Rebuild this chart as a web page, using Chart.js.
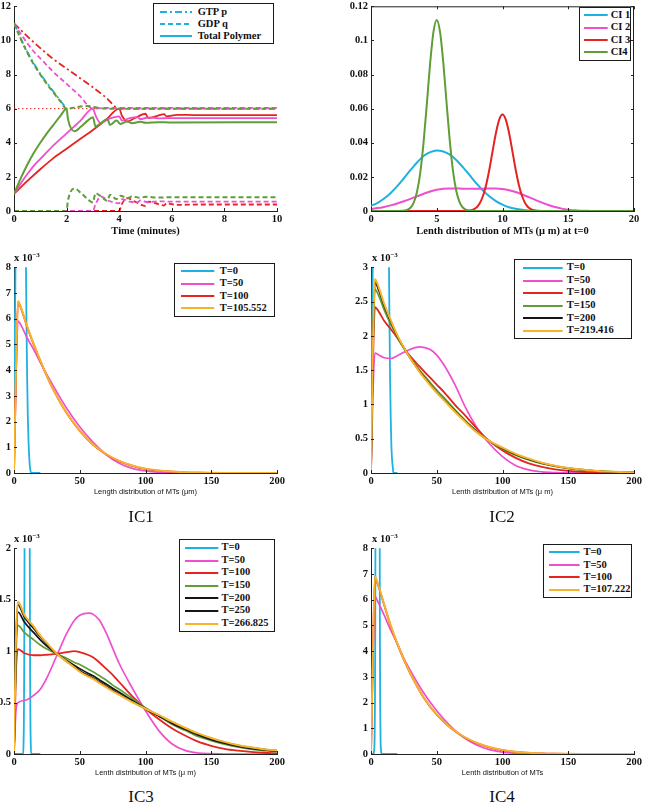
<!DOCTYPE html>
<html><head><meta charset="utf-8">
<script src="https://cdn.jsdelivr.net/npm/chart.js@4.4.0/dist/chart.umd.min.js"></script>
<style>
body{margin:0;background:#fff;}
#page{position:relative;width:645px;height:812px;overflow:hidden;background:#fff;}
.cv{position:absolute;}
.leg{position:absolute;border:1.3px solid #1a1a1a;background:#fff;box-sizing:border-box;font:bold 10.5px "Liberation Serif",serif;color:#111;overflow:visible;z-index:5;}
.leg span{position:absolute;white-space:nowrap;line-height:12px;}
.leg svg{position:absolute;overflow:visible;}
.cap{position:absolute;font:17px "Liberation Serif",serif;color:#111;transform:translate(-50%,-50%);white-space:nowrap;}
.exp{position:absolute;font:bold 10.5px "Liberation Serif",serif;color:#111;line-height:12px;white-space:nowrap;}
.exp sup{font-size:7px;vertical-align:4px;line-height:0;}
</style></head>
<body><div id="page"></div>
<script>
const C = {cyan:'#1eb1e2', magenta:'#ef4fce', red:'#e52421', green:'#5f9e36', orange:'#f6b32b', black:'#151515'};

// ---------- Panel 1 : time course ----------
const p1XTicks = [0,2,4,6,8,10];
const p1YTicks = [0,2,4,6,8,10,12];
const p1XLabel = 'Time (minutes)';
const p1Legend = ['GTP p','GDP q','Total Polymer'];
const gTotT = [0,0.25,0.5,0.75,1,1.25,1.5,1.75,2,2.05,2.3,2.55,2.8,3.0,3.1,3.3,3.55,3.65,3.9,4.05,4.3,4.5,4.8,5.0,5.5,6,10];
const gTotV = [1,1.9,2.7,3.4,4.0,4.55,5.05,5.55,6.0,5.4,4.68,4.95,5.3,5.5,4.95,5.15,5.4,5.05,5.3,5.1,5.25,5.14,5.23,5.17,5.21,5.19,5.2];
const gUpT = [0,0.25,0.5,0.75,1,1.25,1.5,1.75,2,2.4,2.8,3.2,3.6,10];
const gUpV = [11,10.1,9.3,8.6,8.0,7.45,6.95,6.45,6.0,6.1,6.15,6.05,6.0,6.0];
const gLowT = [0,2.0,2.05,2.3,2.55,2.8,3.0,3.1,3.3,3.55,3.65,3.9,4.05,4.3,4.5,4.8,5.0,5.5,6,10];
const gLowV = [0,0,0.6,1.32,1.05,0.7,0.5,1.05,0.85,0.6,0.95,0.7,0.9,0.75,0.86,0.77,0.83,0.79,0.81,0.8];
const mTotT = [0,0.25,0.5,0.75,1,1.5,2,2.5,3,3.1,3.3,3.6,4.0,4.1,4.4,4.7,4.8,5.1,5.5,6,10];
const mTotV = [1,1.6,2.15,2.65,3.05,3.85,4.55,5.25,6.0,5.6,5.15,5.4,5.55,5.3,5.45,5.5,5.38,5.48,5.43,5.45,5.45];
const mUpT = [0,0.25,0.5,0.75,1,1.5,2,2.5,3,3.5,10];
const mUpV = [11,10.4,9.85,9.35,8.95,8.15,7.45,6.75,6.0,6.05,6.05];
const mLowT = [0,3,3.1,3.3,3.6,4.0,4.1,4.4,4.7,4.8,5.1,5.5,6,10];
const mLowV = [0,0,0.4,0.85,0.6,0.45,0.7,0.55,0.5,0.62,0.52,0.57,0.55,0.55];
const rTotT = [0,0.5,1,1.5,2,2.5,3,3.5,4,4.1,4.3,4.6,5.0,5.1,5.5,5.7,5.8,6.2,7,10];
const rTotV = [1,1.75,2.45,3.1,3.65,4.2,4.75,5.35,6.0,5.6,5.25,5.45,5.7,5.45,5.6,5.68,5.55,5.64,5.62,5.62];
const rUpT = [0,0.5,1,1.5,2,2.5,3,3.5,4,10];
const rUpV = [11,10.25,9.55,8.9,8.35,7.8,7.25,6.65,6.0,6.0];
const rLowT = [0,4,4.1,4.3,4.6,5.0,5.1,5.5,5.7,5.8,6.2,7,10];
const rLowV = [0,0,0.4,0.75,0.55,0.3,0.55,0.4,0.32,0.45,0.36,0.38,0.38];
const cUpT = [0,0.5,1,1.5,2];
const cUpV = [11,9.35,8.05,7.0,6.0];
const refT = [0,10];
const refV = [6,6];

// ---------- Panel 2 : initial conditions ----------
const p2XTicks = [0,5,10,15,20];
const p2YTicks = [0,0.02,0.04,0.06,0.08,0.1,0.12];
const p2XLabel = 'Lenth distribution of MTs (\u03bc m) at t=0';
const p2Legend = ['CI 1','CI 2','CI 3','CI4'];
const ci1X = [0,0.5,1,1.5,2,2.5,3,3.5,4,4.5,5,5.5,6,6.5,7,7.5,8,8.5,9,9.5,10,10.5,11,11.5,12,12.5,13,20];
const ci1Y = [0.0030,0.0048,0.0073,0.0106,0.0146,0.0192,0.0239,0.0284,0.0322,0.0345,0.0355,0.0349,0.0330,0.0298,0.0256,0.0210,0.0163,0.0121,0.0086,0.0058,0.0037,0.0022,0.0013,0.0007,0.0003,0.0001,0,0];
const ci2X = [0,0.5,1,1.5,2,2.5,3,3.5,4,4.5,5,5.5,6,6.5,7,7.5,8,8.5,9,9.5,10,10.5,11,11.5,12,12.5,13,13.5,14,14.5,15,15.5,16,16.5,17,20];
const ci2Y = [0.0012,0.0017,0.0024,0.0033,0.0044,0.0057,0.0071,0.0086,0.0101,0.0114,0.0124,0.0130,0.0132,0.0132,0.0131,0.0131,0.0131,0.0131,0.0132,0.0132,0.0129,0.0122,0.0111,0.0097,0.0081,0.0065,0.0049,0.0035,0.0023,0.0014,0.0008,0.0004,0.0002,0.0001,0,0];
const ci3X = [0,7,7.25,7.5,7.75,8,8.25,8.5,8.75,9,9.25,9.5,9.75,10,10.25,10.5,10.75,11,11.25,11.5,11.75,12,12.25,12.5,12.75,13,20];
const ci3Y = [0,0,0.0001,0.0003,0.0008,0.0019,0.0043,0.0085,0.0151,0.0243,0.0352,0.0457,0.0536,0.0565,0.0536,0.0457,0.0352,0.0243,0.0151,0.0085,0.0043,0.0019,0.0008,0.0003,0.0001,0,0];
const ci4X = [0,2,2.25,2.5,2.75,3,3.25,3.5,3.75,4,4.25,4.5,4.75,5,5.25,5.5,5.75,6,6.25,6.5,6.75,7,7.25,7.5,7.75,8,20];
const ci4Y = [0,0,0.0001,0.0002,0.0006,0.0019,0.0049,0.0113,0.0227,0.0404,0.0631,0.0868,0.1050,0.1120,0.1050,0.0868,0.0631,0.0404,0.0227,0.0113,0.0049,0.0019,0.0006,0.0002,0.0001,0,0];

// ---------- Panels 3-6 : evolution (values in units of 10^-3) ----------
const lenTicks = [0,50,100,150,200];
const ic1YTicks = [0,1,2,3,4,5,6,7,8];
const ic2YTicks = [0,0.5,1,1.5,2,2.5,3];
const ic3YTicks = [0,0.5,1,1.5,2];
const ic4YTicks = [0,1,2,3,4,5,6,7,8];
const ic1XLabel = 'Length distribution of MTs (\u03bcm)';
const ic2XLabel = 'Lenth distribution of MTs (\u03bc m)';
const ic3XLabel = 'Lenth distribution of MTs (\u03bc m)';
const ic4XLabel = 'Lenth distribution of MTs';
const ic1Legend = ['T=0','T=50','T=100','T=105.552'];
const ic2Legend = ['T=0','T=50','T=100','T=150','T=200','T=219.416'];
const ic3Legend = ['T=0','T=50','T=100','T=150','T=200','T=250','T=266.825'];
const ic4Legend = ['T=0','T=50','T=100','T=107.222'];
const captions = ['IC1','IC2','IC3','IC4'];

const g1 = [0,1.5,3,5,10,15,20,25,30,40,50,60,70,80,90,100,110,120,130,140,150,160,170,180,190,200];
const ic1T50  = [0,3.6,5.92,5.78,5.25,4.8,4.3,3.82,3.38,2.52,1.8,1.2,0.72,0.38,0.18,0.08,0.03,0.012,0.005,0.002,0,0,0,0,0,0];
const ic1T100 = [0,3.9,6.64,6.45,5.68,5.0,4.36,3.77,3.23,2.33,1.64,1.11,0.73,0.46,0.28,0.16,0.09,0.05,0.025,0.012,0.006,0.003,0.001,0,0,0];
const ic1T105 = [0,3.95,6.69,6.48,5.7,5.02,4.37,3.78,3.24,2.34,1.65,1.12,0.74,0.47,0.29,0.17,0.1,0.055,0.03,0.015,0.008,0.004,0.002,0.001,0,0];

const g2 = [0,1.5,3,6,10,15,20,27,37,45,50,56,64,72,80,88,100,110,120,130,140,150,160,170,180,190,200];
const ic2T50  = [0,1.2,1.75,1.72,1.68,1.67,1.71,1.78,1.84,1.8,1.72,1.56,1.28,0.95,0.68,0.47,0.24,0.11,0.045,0.017,0.006,0.002,0.0005,0,0,0,0];
const ic2T100 = [0,1.6,2.42,2.35,2.22,2.1,1.97,1.77,1.55,1.39,1.29,1.17,0.99,0.83,0.66,0.5,0.33,0.22,0.14,0.088,0.054,0.032,0.018,0.01,0.005,0.002,0.001];
const ic2T150 = [0,1.8,2.68,2.58,2.38,2.17,1.98,1.76,1.5,1.32,1.21,1.09,0.92,0.76,0.62,0.49,0.35,0.26,0.19,0.135,0.095,0.065,0.044,0.029,0.018,0.011,0.007];
const ic2T200 = [0,1.85,2.78,2.66,2.44,2.21,2.0,1.76,1.48,1.29,1.18,1.06,0.9,0.75,0.61,0.49,0.36,0.27,0.2,0.145,0.102,0.07,0.048,0.032,0.021,0.013,0.008];
const ic2T219 = [0,1.88,2.83,2.7,2.47,2.23,2.01,1.76,1.47,1.28,1.17,1.05,0.89,0.74,0.6,0.49,0.37,0.28,0.21,0.15,0.106,0.073,0.05,0.034,0.022,0.014,0.009];

const g3 = [0,1.5,3,8,15,20,25,33,40,46,50,57,60,65,70,75,80,90,100,110,120,130,140,150,160,170,180,190,200];
const ic3T50  = [0,0.42,0.5,0.52,0.57,0.63,0.74,0.97,1.17,1.3,1.35,1.37,1.36,1.3,1.18,1.03,0.88,0.64,0.42,0.23,0.1,0.035,0.01,0.003,0,0,0,0,0];
const ic3T100 = [0,0.8,1.02,0.98,0.96,0.96,0.965,0.975,0.99,1.0,0.99,0.96,0.94,0.89,0.83,0.77,0.7,0.56,0.44,0.34,0.25,0.18,0.12,0.08,0.05,0.032,0.02,0.012,0.007];
const ic3T150 = [0,0.95,1.25,1.18,1.11,1.06,1.02,0.97,0.93,0.89,0.87,0.82,0.8,0.76,0.72,0.67,0.63,0.54,0.45,0.37,0.29,0.23,0.17,0.13,0.095,0.068,0.047,0.032,0.022];
const ic3T200 = [0,1.05,1.38,1.28,1.18,1.11,1.05,0.97,0.91,0.86,0.83,0.78,0.76,0.72,0.68,0.64,0.6,0.52,0.44,0.37,0.3,0.24,0.185,0.14,0.105,0.077,0.055,0.04,0.028];
const ic3T250 = [0,1.1,1.45,1.33,1.22,1.14,1.07,0.97,0.9,0.85,0.81,0.76,0.74,0.7,0.66,0.62,0.58,0.51,0.44,0.375,0.31,0.25,0.195,0.15,0.114,0.085,0.062,0.045,0.032];
const ic3T266 = [0,1.12,1.48,1.35,1.24,1.15,1.08,0.97,0.9,0.84,0.8,0.75,0.73,0.69,0.65,0.61,0.575,0.505,0.44,0.38,0.315,0.255,0.2,0.155,0.118,0.088,0.065,0.047,0.034];

const g4 = [0,1.5,3,5,10,15,20,25,30,40,50,60,70,80,90,100,110,120,130,140,150,160,170,180,190,200];
const ic4T50  = [0,3.7,6.13,5.95,5.4,4.82,4.3,3.72,3.24,2.38,1.68,1.1,0.66,0.36,0.17,0.07,0.025,0.008,0.002,0,0,0,0,0,0,0];
const ic4T100 = [0,4.0,6.86,6.62,5.8,4.98,4.28,3.66,3.12,2.2,1.53,1.04,0.68,0.43,0.26,0.15,0.08,0.04,0.02,0.01,0.005,0.002,0.001,0,0,0];
const ic4T107 = [0,4.05,6.9,6.66,5.82,5.0,4.3,3.68,3.13,2.21,1.54,1.05,0.69,0.44,0.27,0.16,0.09,0.045,0.022,0.011,0.006,0.003,0.001,0,0,0];

// ---------- helpers ----------
const DASH = {solid:[], dash:[5,3], dashdot:[7,3,2,3], dot:[1.5,2.5]};
const page = document.getElementById('page');
function pts(xs, ys, k){ k = k || 1; return xs.map((x,i)=>({x:x, y:ys[i]*k})); }
function ds(xs, ys, color, o){
  o = o || {};
  return {data:pts(xs,ys,o.k), borderColor:color, backgroundColor:color, borderWidth:o.w||1.8,
    borderDash:DASH[o.dash||'solid'], pointRadius:0, fill:false, cubicInterpolationMode:'monotone'};
}
function fmt(v){ return String(+(+v).toFixed(4)); }

const inTicks = {
  id:'inTicks',
  afterDraw(chart, args, o){
    const ctx = chart.ctx, a = chart.chartArea, x = chart.scales.x, y = chart.scales.y, L = 3;
    ctx.save(); ctx.strokeStyle = '#222'; ctx.lineWidth = 1; ctx.setLineDash([]);
    ctx.beginPath();
    x.ticks.forEach(t=>{ const px = Math.round(x.getPixelForValue(t.value))+0.5;
      ctx.moveTo(px,a.bottom); ctx.lineTo(px,a.bottom-L);
      if (o.box){ ctx.moveTo(px,a.top); ctx.lineTo(px,a.top+L); } });
    y.ticks.forEach(t=>{ const py = Math.round(y.getPixelForValue(t.value))+0.5;
      ctx.moveTo(a.left,py); ctx.lineTo(a.left+L,py);
      if (o.box){ ctx.moveTo(a.right,py); ctx.lineTo(a.right-L,py); } });
    if (o.box){ ctx.moveTo(a.left,a.top+0.5); ctx.lineTo(a.right,a.top+0.5);
      ctx.moveTo(a.right-0.5,a.top); ctx.lineTo(a.right-0.5,a.bottom); }
    ctx.stroke(); ctx.restore();
  }
};

const serifBold = {family:'"Liberation Serif", "Times New Roman", serif', size:10.5, weight:'bold'};
const sansSmall = {family:'"Liberation Sans", Arial, sans-serif', size:7.5, weight:'normal'};

function panel(p){
  const x0 = p.right ? 322 : 0, w = p.right ? 323 : 322;
  const y0 = p.area.t - 8, h = (p.area.b - p.area.t) + 8 + 30;
  const wrap = document.createElement('div'); wrap.className = 'cv';
  wrap.style.cssText = 'left:'+x0+'px;top:'+y0+'px;width:'+w+'px;height:'+h+'px;';
  const cv = document.createElement('canvas'); cv.width = w; cv.height = h;
  cv.style.width = w+'px'; cv.style.height = h+'px';
  wrap.appendChild(cv); page.appendChild(wrap);
  const titleFont = p.bigTitle ? serifBold : sansSmall;
  const titlePad = p.bigTitle ? 3.7 : 6.5;
  new Chart(cv, {
    type:'line',
    data:{datasets:p.datasets},
    options:{
      responsive:false, animation:false, events:[],
      layout:{padding:{left:0, top:8, right:(x0+w)-p.area.r, bottom:0}},
      plugins:{legend:{display:false}, tooltip:{enabled:false}, inTicks:{box:!!p.box}},
      scales:{
        x:{type:'linear', min:p.xTicks[0], max:p.xTicks[p.xTicks.length-1],
          afterBuildTicks:s=>{ s.ticks = p.xTicks.map(v=>({value:v})); },
          ticks:{font:serifBold, color:'#111', padding:2, maxRotation:0, autoSkip:false, callback:v=>fmt(v)},
          grid:{display:false, drawTicks:false}, border:{display:true, color:'#222', width:1},
          title:{display:true, text:p.xLabel, font:titleFont, color:'#111', padding:{top:0,bottom:titlePad}},
          afterFit:s=>{ s.height = 30; }},
        y:{type:'linear', min:p.yTicks[0], max:p.yTicks[p.yTicks.length-1],
          afterBuildTicks:s=>{ s.ticks = p.yTicks.map(v=>({value:v})); },
          ticks:{font:serifBold, color:'#111', padding:3, autoSkip:false, callback:v=>fmt(v)},
          grid:{display:false, drawTicks:false}, border:{display:true, color:'#222', width:1},
          afterFit:s=>{ s.width = p.area.l - x0; }}
      }
    },
    plugins:[inTicks]
  });
}

function legend(box, rows, lx1, lx2, tx, items){
  const d = document.createElement('div'); d.className = 'leg';
  d.style.cssText = 'left:'+box.x+'px;top:'+box.y+'px;width:'+box.w+'px;height:'+box.h+'px;';
  const bx = box.x + 1.3, by = box.y + 1.3;
  items.forEach((it,i)=>{
    const ry = rows[i];
    const svgNS = 'http://www.w3.org/2000/svg';
    const s = document.createElementNS(svgNS,'svg');
    s.setAttribute('width', lx2-lx1); s.setAttribute('height', 4);
    s.style.left = (lx1-bx)+'px'; s.style.top = (ry-2-by)+'px';
    const l = document.createElementNS(svgNS,'line');
    l.setAttribute('x1',0); l.setAttribute('y1',2); l.setAttribute('x2',lx2-lx1); l.setAttribute('y2',2);
    l.setAttribute('stroke', it.color); l.setAttribute('stroke-width', 2);
    if (it.dash && it.dash !== 'solid') l.setAttribute('stroke-dasharray', DASH[it.dash].join(' '));
    s.appendChild(l); d.appendChild(s);
    const t = document.createElement('span'); t.textContent = it.label;
    t.style.left = (tx-bx)+'px'; t.style.top = (ry-6.5-by)+'px';
    d.appendChild(t);
  });
  page.appendChild(d);
}
function textAt(cls, x, y, html){
  const d = document.createElement('div'); d.className = cls;
  d.style.left = x+'px'; d.style.top = y+'px'; d.innerHTML = html; page.appendChild(d);
}

// ---------- build panels ----------
panel({area:{l:14,t:5,r:277,b:211}, xTicks:p1XTicks, yTicks:p1YTicks, xLabel:p1XLabel, bigTitle:true,
  datasets:[
    ds(gTotT,gTotV,C.green,{w:2}),
    ds(gUpT,gUpV,C.green,{w:2,dash:'dash'}),
    ds(gLowT,gLowV,C.green,{w:2,dash:'dash'}),
    ds(mTotT,mTotV,C.magenta,{w:1.8}),
    ds(mUpT,mUpV,C.magenta,{w:1.8,dash:'dash'}),
    ds(mLowT,mLowV,C.magenta,{w:1.8,dash:'dash'}),
    ds(rTotT,rTotV,C.red,{w:1.8}),
    ds(rUpT,rUpV,C.red,{w:1.8,dash:'dashdot'}),
    ds(rLowT,rLowV,C.red,{w:1.8,dash:'dash'}),
    ds(cUpT,cUpV,C.cyan,{w:1.8,dash:'dashdot'}),
    ds(refT,refV,C.red,{w:1,dash:'dot'})
  ]});
panel({area:{l:371,t:5,r:634,b:211}, right:true, box:true, xTicks:p2XTicks, yTicks:p2YTicks, xLabel:p2XLabel, bigTitle:true,
  datasets:[
    ds(ci4X,ci4Y,C.green,{w:2}),
    ds(ci3X,ci3Y,C.red,{w:2}),
    ds(ci2X,ci2Y,C.magenta,{w:2}),
    ds(ci1X,ci1Y,C.cyan,{w:2})
  ]});
panel({area:{l:14,t:266,r:277,b:473}, xTicks:lenTicks, yTicks:ic1YTicks, xLabel:ic1XLabel,
  datasets:[
    ds(g1,ic1T105,C.orange,{w:2}),
    ds(g1,ic1T100,C.red,{w:1.8}),
    ds(g1,ic1T50,C.magenta,{w:1.7}),
    ds(ci1X,ci1Y,C.cyan,{w:1.8,k:1000})
  ]});
panel({area:{l:371,t:266,r:634,b:473}, right:true, xTicks:lenTicks, yTicks:ic2YTicks, xLabel:ic2XLabel,
  datasets:[
    ds(g2,ic2T219,C.orange,{w:2}),
    ds(g2,ic2T200,C.black,{w:1.7}),
    ds(g2,ic2T150,C.green,{w:1.7}),
    ds(g2,ic2T100,C.red,{w:1.8}),
    ds(g2,ic2T50,C.magenta,{w:1.7}),
    ds(ci2X,ci2Y,C.cyan,{w:1.8,k:1000})
  ]});
panel({area:{l:14,t:547,r:277,b:754}, xTicks:lenTicks, yTicks:ic3YTicks, xLabel:ic3XLabel,
  datasets:[
    ds(g3,ic3T266,C.orange,{w:2}),
    ds(g3,ic3T250,C.black,{w:1.7}),
    ds(g3,ic3T200,C.black,{w:1.7}),
    ds(g3,ic3T150,C.green,{w:1.7}),
    ds(g3,ic3T100,C.red,{w:1.8}),
    ds(g3,ic3T50,C.magenta,{w:1.7}),
    ds(ci3X,ci3Y,C.cyan,{w:1.8,k:1000})
  ]});
panel({area:{l:371,t:547,r:634,b:754}, right:true, xTicks:lenTicks, yTicks:ic4YTicks, xLabel:ic4XLabel,
  datasets:[
    ds(g4,ic4T107,C.orange,{w:2}),
    ds(g4,ic4T100,C.red,{w:1.8}),
    ds(g4,ic4T50,C.magenta,{w:1.7}),
    ds(ci4X,ci4Y,C.cyan,{w:1.8,k:1000})
  ]});

// ---------- legends ----------
const p1Styles = ['dashdot','dash','solid'];
legend({x:153,y:3,w:121,h:41},[12.3,24.5,36.7],160.7,192.7,198,
  p1Legend.map((l,i)=>({label:l,color:C.cyan,dash:p1Styles[i]})));
const p2Cols = [C.cyan,C.magenta,C.red,C.green];
legend({x:578.5,y:7,w:52,h:54},[15.7,28,40.5,52.7],584.3,608,611,
  p2Legend.map((l,i)=>({label:l,color:p2Cols[i]})));
const ic1Cols = [C.cyan,C.magenta,C.red,C.orange];
legend({x:174,y:262.5,w:101,h:54},[271.7,284,296.3,308.7],181.7,215,220,
  ic1Legend.map((l,i)=>({label:l,color:ic1Cols[i]})));
const ic2Cols = [C.cyan,C.magenta,C.red,C.green,C.black,C.orange];
legend({x:513.7,y:259.3,w:118.3,h:80},[268.3,281,293.3,306,318.7,331],523,562.7,567,
  ic2Legend.map((l,i)=>({label:l,color:ic2Cols[i]})));
const ic3Cols = [C.cyan,C.magenta,C.red,C.green,C.black,C.black,C.orange];
legend({x:179.3,y:539.3,w:95.7,h:92.4},[548.3,561,573.3,586,598.7,611,624.3],185,218.3,221.7,
  ic3Legend.map((l,i)=>({label:l,color:ic3Cols[i]})));
const ic4Cols = [C.cyan,C.magenta,C.red,C.orange];
legend({x:542.7,y:544,w:89.3,h:54.3},[552.7,565.3,577.7,590],549.7,580.3,583.7,
  ic4Legend.map((l,i)=>({label:l,color:ic4Cols[i]})));

// ---------- exponent labels & captions ----------
const expHtml = 'x 10<sup>\u22123</sup>';
textAt('exp', 14, 252, expHtml);
textAt('exp', 372, 252, expHtml);
textAt('exp', 14, 533, expHtml);
textAt('exp', 372, 533, expHtml);
textAt('cap', 141, 516.5, captions[0]);
textAt('cap', 502, 516.5, captions[1]);
textAt('cap', 141, 797, captions[2]);
textAt('cap', 502, 797, captions[3]);
</script>
</body></html>
